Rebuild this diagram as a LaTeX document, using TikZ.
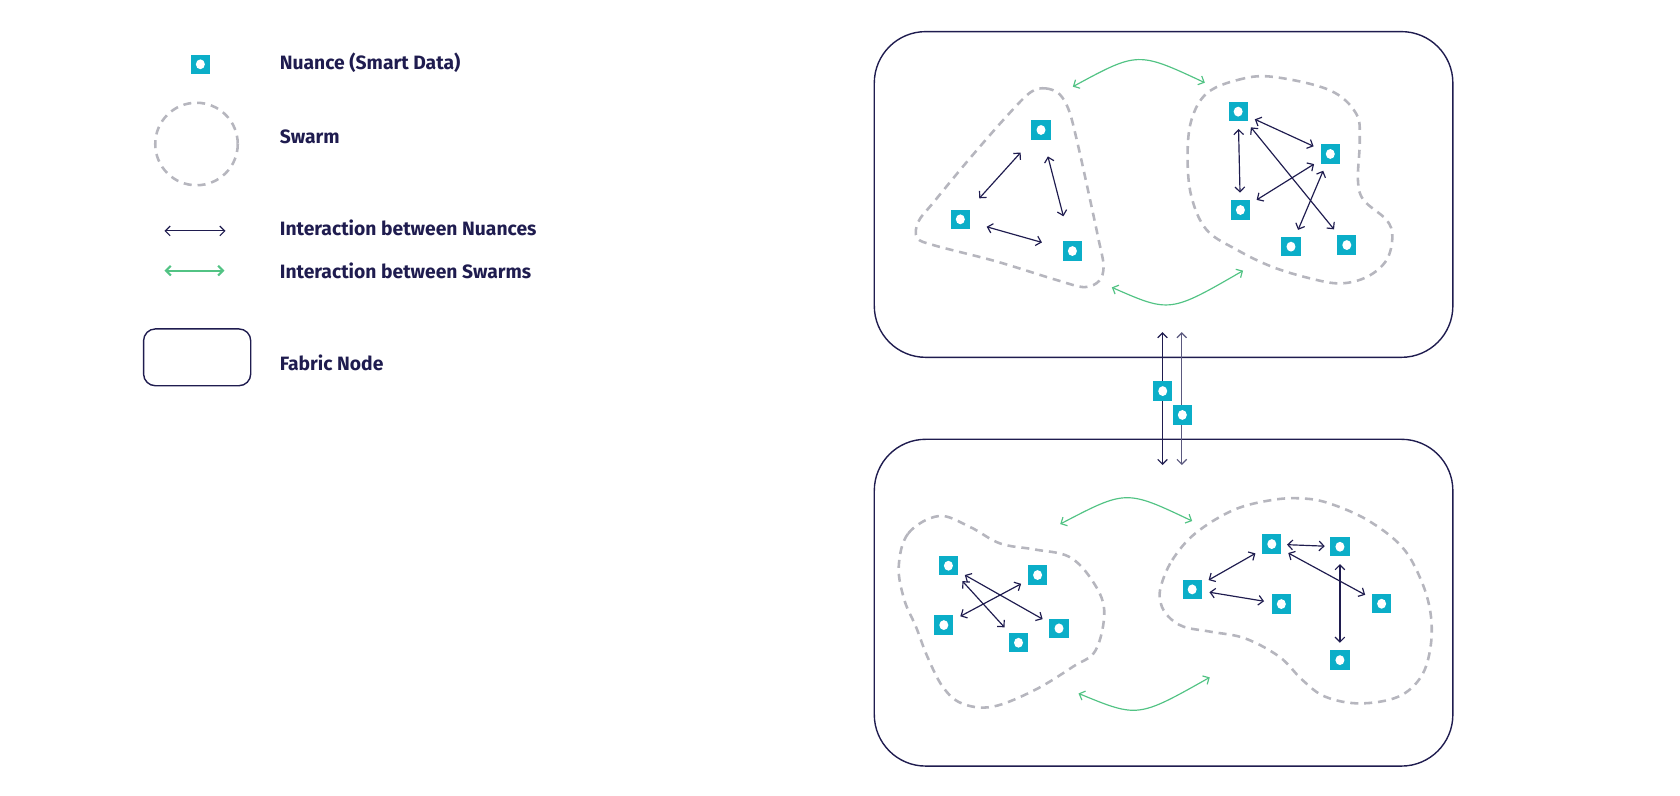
\documentclass[tikz,border=0pt]{standalone}
\usepackage{fontspec}
\setmainfont{Fira Sans}
\usetikzlibrary{arrows.meta}
\definecolor{navy}{HTML}{1F1C4F}
\definecolor{navylite}{HTML}{5A587E}
\definecolor{nuteal}{HTML}{0BAEC8}
\definecolor{swgreen}{HTML}{52C384}
\definecolor{swgray}{HTML}{B6B6BE}
\tikzset{
  nuance/.style={fill=nuteal, minimum size=18pt, inner sep=0pt,
    path picture={\fill[white] (path picture bounding box.center) ellipse (4.2pt and 4.6pt);}},
  swarm/.style={draw=swgray, line width=2.4pt, dash pattern=on 7.5pt off 5.5pt},
  fabric/.style={draw=navy, line width=1.3pt, rounded corners=48pt, minimum width=540pt, minimum height=304pt},
  barbs/.style={{Straight Barb[length=4.5pt,width=9pt]}-{Straight Barb[length=4.5pt,width=9pt]}},
  nlink/.style={draw=navy, line width=1.1pt, barbs, shorten <=7pt, shorten >=7pt},
  slink/.style={draw=swgreen, line width=1.1pt, barbs},
  legtext/.style={anchor=west, inner sep=0pt, text=navy, font=\fontsize{18}{21}\selectfont\bfseries}
}
\begin{document}
\begin{tikzpicture}[x=1pt, y=-1pt]
\useasboundingbox (0,0) rectangle (1568,742);

\node[nuance] (lnu) at (187,60) {};
\node[legtext] at (261,59) {Nuance (Smart Data)};
\draw[swarm] (183.4,134.4) circle (38.5);
\node[legtext] at (261,128) {Swarm};
\coordinate (lna) at (153.5,215.5);
\coordinate (lnb) at (210.5,215.5);
\draw[nlink, shorten <=0pt, shorten >=0pt] (lna) -- (lnb);
\node[legtext] at (261,212.5) {Interaction between Nuances};
\coordinate (lsa) at (153.5,252.6);
\coordinate (lsb) at (209.5,252.6);
\draw[slink, line width=2pt] (lsa) -- (lsb);
\node[legtext] at (261,252.6) {Interaction between Swarms};
\node[fabric, rounded corners=11pt, minimum width=100pt, minimum height=53pt] (lfab) at (184,333.5) {};
\node[legtext] at (261,338.5) {Fabric Node};

\node[fabric] (fabA) at (1086,181.5) {};
\node[fabric, minimum height=305pt] (fabB) at (1086,562.5) {};

\draw[swarm] plot[smooth cycle, tension=0.55] coordinates {(962,86) (976,82.5) (989,88) (998,104) (1006,135)
  (1016,180) (1025,222) (1030,248) (1026,262) (1012,268) (985,261) (930,244) (872,229) (856,222) (857,207)
  (872,188) (905,148) (940,108)};
\draw[swarm] plot[smooth cycle, tension=0.6] coordinates {(1126.3,87.1) (1154.9,74.7) (1187,71.6) (1240.6,84)
  (1265.6,105.8) (1269.1,130.7) (1267.4,168) (1272.7,186.7) (1294.1,205.3) (1299.5,220.9) (1294.1,242.7)
  (1276.3,258.2) (1251.3,264.5) (1222.7,259.8) (1187,248.9) (1154.9,233.4) (1126.3,214.7) (1112,183.6)
  (1108.4,146.2) (1112,112)};
\draw[swarm] plot[smooth cycle, tension=0.6] coordinates {(838.8,529) (847.7,497.8) (876.3,481.6) (904.9,491.6)
  (933.4,507.2) (965.6,512.8) (997.7,519.6) (1019.1,541.4) (1030.6,569.4) (1022.7,606.7) (1001.3,622.3)
  (965.6,644.1) (926.3,659.6) (897.7,656.5) (879.9,641) (865.6,613) (854.9,585) (844.1,560.1)};
\draw[swarm] plot[smooth cycle, tension=0.6] coordinates {(1083.4,547.6) (1094.1,522.7) (1115.6,497.8)
  (1151.3,476) (1187,466.7) (1215.6,465.2) (1240.6,469.8) (1276.3,485.4) (1308.4,510.3) (1326.3,541.4)
  (1335.2,572.5) (1335.2,603.6) (1326.3,631.6) (1304.9,650.3) (1269.1,656.5) (1237,650.3) (1215.6,634.7)
  (1194.1,613) (1162,595.8) (1129.9,589.6) (1104.9,585) (1090.6,575.6) (1083.4,563.1)};

\node[nuance] (ta) at (971.6,121.3) {};
\node[nuance] (tb) at (896.3,204.7) {};
\node[nuance] (tc) at (1000.9,234.3) {};
\node[nuance] (td) at (1155.6,104.2) {};
\node[nuance] (te) at (1241.6,143.7) {};
\node[nuance] (tf) at (1157.7,196) {};
\node[nuance] (tg) at (1204.9,230.2) {};
\node[nuance] (th) at (1257,228.7) {};
\draw[nlink, shorten <=14pt, shorten >=16pt] (tb) -- (ta);
\draw[nlink, shorten <=16pt, shorten >=24pt] (ta) -- (tc);
\draw[nlink, shorten <=16pt, shorten >=20pt] (tb) -- (tc);
\draw[nlink] (td) -- (te);
\draw[nlink] (td) -- (tf);
\draw[nlink] (td) -- (th);
\draw[nlink] (te) -- (tf);
\draw[nlink] (te) -- (tg);

\node[nuance] (ba) at (885.2,528) {};
\node[nuance] (bb) at (968.4,536.7) {};
\node[nuance] (bc) at (880.9,583.4) {};
\node[nuance] (bd) at (950.6,599.9) {};
\node[nuance] (be) at (988.4,586.5) {};
\node[nuance] (bf) at (1187,507.8) {};
\node[nuance] (bg) at (1250.6,510.3) {};
\node[nuance] (bh) at (1112.7,550.1) {};
\node[nuance] (bi) at (1195.9,563.8) {};
\node[nuance] (bj) at (1289.5,563.5) {};
\node[nuance] (bk) at (1250.6,616.1) {};
\draw[nlink] (ba) -- (be);
\draw[nlink] (ba) -- (bd);
\draw[nlink] (bc) -- (bb);
\draw[nlink, shorten <=5pt, shorten >=5pt] (bf) -- (bg);
\draw[nlink] (bf) -- (bh);
\draw[nlink] (bf) -- (bj);
\draw[nlink] (bh) -- (bi);
\draw[nlink] (bg) -- (bk);

\coordinate (sa1) at (1001.3,80.9);
\coordinate (sa2) at (1124.5,77.2);
\coordinate (sb1) at (1037.7,268.2);
\coordinate (sb2) at (1160.2,252.6);
\coordinate (sc1) at (989.5,489.1);
\coordinate (sc2) at (1112.7,486.3);
\coordinate (sd1) at (1006.6,647.2);
\coordinate (sd2) at (1129.1,632.2);
\draw[slink] (sa1) .. controls (1062,48) .. (sa2);
\draw[slink] (sb1) .. controls (1092,292) .. (sb2);
\draw[slink] (sc1) .. controls (1051,457) .. (sc2);
\draw[slink] (sd1) .. controls (1062,670) .. (sd2);

\coordinate (ua) at (1085,310);
\coordinate (da) at (1085,434);
\coordinate (ub) at (1103,310);
\coordinate (db) at (1103,434);
\draw[nlink, shorten <=0pt, shorten >=0pt] (ua) -- (da);
\draw[nlink, draw=navylite, shorten <=0pt, shorten >=0pt] (ub) -- (db);
\node[nuance] (ma) at (1085.2,365) {};
\node[nuance] (mb) at (1103.5,387.3) {};
\end{tikzpicture}
\end{document}
